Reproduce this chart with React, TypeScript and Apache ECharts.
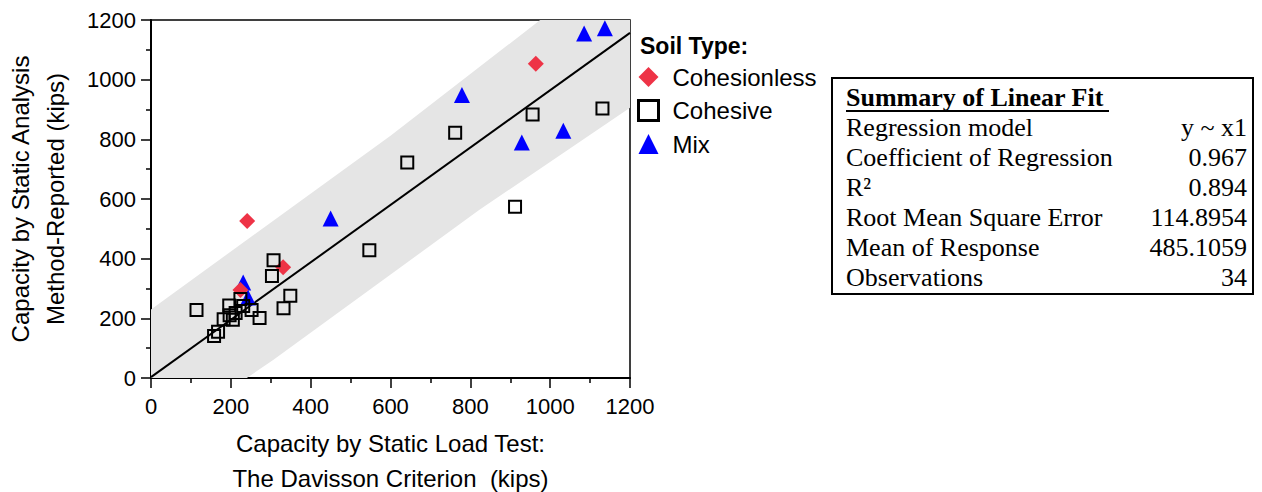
import React, { useEffect, useRef } from "react";
import * as echarts from "echarts";

// Cohesionless (red diamonds)
const cohesionlessX = [964, 241, 331, 224];
const cohesionlessY = [1053, 526, 371, 295];
// Cohesive (hollow squares)
const cohesiveX = [956, 1131, 762, 642, 912, 547, 307, 303, 349, 332, 114, 224, 196, 252, 231, 272, 182, 205, 197, 168, 158, 212];
const cohesiveY = [883, 903, 822, 722, 574, 428, 395, 342, 276, 234, 228, 265, 243, 228, 241, 201, 197, 195, 210, 155, 141, 218];
// Mix (blue triangles)
const mixX = [1085, 1137, 779, 1033, 929, 450, 231, 243];
const mixY = [1155, 1172, 949, 829, 789, 535, 320, 270];

// Linear fit line
const fitX = [0, 1200];
const fitY = [3, 1157];

// Prediction band outline (visible part)
const bandUpperX = [0, 600, 975, 1200];
const bandUpperY = [230, 812, 1200, 1200];
const bandLowerX = [1200, 822, 306, 240, 0];
const bandLowerY = [906, 563, 60, 0, 0];

const summaryLabels = ["Regression model", "Coefficient of Regression", "R²", "Root Mean Square Error", "Mean of Response", "Observations"];
const summaryValues = ["y ~ x1", "0.967", "0.894", "114.8954", "485.1059", "34"];

const SANS = "'Liberation Sans', Arial, sans-serif";
const SERIF = "'Liberation Serif', 'Times New Roman', serif";
const RED = "#EE3346";
const BLUE = "#0000FF";

const zip = (xs: number[], ys: number[]) => xs.map((x, i) => [x, ys[i]]);

export default function App() {
  const ref = useRef<HTMLDivElement>(null);
  useEffect(() => {
    if (!ref.current) return;
    const chart = echarts.init(ref.current, null, { renderer: "svg" });
    const bandPts = [...zip(bandUpperX, bandUpperY), ...zip(bandLowerX, bandLowerY)];

    const summaryGraphics: any[] = [
      {
        type: "rect",
        shape: { x: 832, y: 78, width: 421, height: 216 },
        style: { fill: "#fff", stroke: "#000", lineWidth: 2 },
      },
      {
        type: "text",
        x: 846,
        y: 97,
        style: { text: "Summary of Linear Fit", font: `bold 26px ${SERIF}`, fill: "#000", verticalAlign: "middle" },
      },
      {
        type: "line",
        shape: { x1: 846, y1: 111, x2: 1109, y2: 111 },
        style: { stroke: "#000", lineWidth: 2 },
      },
    ];
    summaryLabels.forEach((lab, i) => {
      summaryGraphics.push({
        type: "text",
        x: 846,
        y: 127 + 30 * i,
        style: { text: lab, font: `26px ${SERIF}`, fill: "#000", verticalAlign: "middle" },
      });
      summaryGraphics.push({
        type: "text",
        x: 1247,
        y: 127 + 30 * i,
        style: { text: summaryValues[i], font: `26px ${SERIF}`, fill: "#000", verticalAlign: "middle", align: "right" },
      });
    });

    const option: any = {
      animation: false,
      grid: {
        left: 151, right: 632, top: 20, bottom: 114,
        outerBoundsMode: "none",
        containLabel: false,
        show: true, borderColor: "#000", borderWidth: 1.5, backgroundColor: "transparent",
      },
      xAxis: {
        type: "value",
        min: 0,
        max: 1200,
        interval: 200,
        name: "Capacity by Static Load Test:\nThe Davisson Criterion  (kips)",
        nameLocation: "middle",
        nameGap: 48,
        nameTextStyle: { fontFamily: SANS, fontSize: 24, color: "#000", lineHeight: 35, verticalAlign: "top" },
        axisLine: { lineStyle: { color: "#000", width: 2 } },
        axisTick: { length: 10, lineStyle: { color: "#000", width: 1.5 } },
        minorTick: { show: true, splitNumber: 2, length: 5, lineStyle: { color: "#000", width: 1.5 } },
        splitLine: { show: false },
        axisLabel: { fontFamily: SANS, fontSize: 22, color: "#000", margin: 17, showMaxLabel: true, formatter: (v: number) => String(v) },
      },
      yAxis: {
        type: "value",
        min: 0,
        max: 1200,
        interval: 200,
        name: "Capacity by Static Analysis\nMethod-Reported (kips)",
        nameLocation: "middle",
        nameGap: 78,
        nameRotate: 90,
        nameTextStyle: { fontFamily: SANS, fontSize: 24, color: "#000", lineHeight: 35 },
        axisLine: { lineStyle: { color: "#000", width: 2 } },
        axisTick: { length: 10, lineStyle: { color: "#000", width: 1.5 } },
        minorTick: { show: true, splitNumber: 2, length: 5, lineStyle: { color: "#000", width: 1.5 } },
        splitLine: { show: false },
        axisLabel: { fontFamily: SANS, fontSize: 22, color: "#000", margin: 15, formatter: (v: number) => String(v) },
      },
      legend: {
        orient: "vertical",
        left: 637,
        top: 65,
        padding: 0,
        itemGap: 9.5,
        itemWidth: 20,
        itemHeight: 20,
        textStyle: { fontFamily: SANS, fontSize: 24, color: "#000", lineHeight: 23, padding: [0, 0, 0, 9] },
        data: [
          { name: "Cohesionless", icon: "diamond", itemStyle: { color: RED, opacity: 1 } },
          { name: "Cohesive", icon: "rect", itemStyle: { color: "transparent", borderColor: "#000", borderWidth: 3, opacity: 1 } },
          { name: "Mix", icon: "triangle", itemStyle: { color: BLUE, opacity: 1 } },
        ],
      },
      graphic: [
        {
          type: "text",
          x: 640,
          y: 46,
          style: { text: "Soil Type:", font: `bold 23px ${SANS}`, fill: "#000", verticalAlign: "middle" },
        },
        ...summaryGraphics,
      ],
      series: [
        {
          type: "custom",
          name: "band",
          silent: true,
          z: 1,
          data: bandPts,
          renderItem: (params: any, api: any) => {
            if (params.dataIndex !== 0) return null;
            const pts = bandPts.map((p) => api.coord(p));
            return { type: "polygon", shape: { points: pts }, style: { fill: "#e5e5e5" } };
          },
        },
        {
          type: "line",
          name: "fit",
          data: zip(fitX, fitY),
          symbol: "none",
          silent: true,
          z: 2,
          lineStyle: { color: "#000", width: 2 },
        },
        {
          type: "scatter",
          name: "Mix",
          data: zip(mixX, mixY),
          symbol: "triangle",
          symbolSize: 16,
          z: 3,
          itemStyle: { color: BLUE, opacity: 1 },
        },
        {
          type: "scatter",
          name: "Cohesionless",
          data: zip(cohesionlessX, cohesionlessY),
          symbol: "diamond",
          symbolSize: 16,
          z: 4,
          itemStyle: { color: RED, opacity: 1 },
        },
        {
          type: "scatter",
          name: "Cohesive",
          data: zip(cohesiveX, cohesiveY),
          symbol: "rect",
          symbolSize: 12,
          z: 5,
          itemStyle: { color: "transparent", borderColor: "#000", borderWidth: 2, opacity: 1 },
        },
      ],
    };
    chart.setOption(option);
    return () => chart.dispose();
  }, []);
  return <div ref={ref} style={{ position: "fixed", left: 0, top: 0, width: 1262, height: 492, background: "#fff" }} />;
}
